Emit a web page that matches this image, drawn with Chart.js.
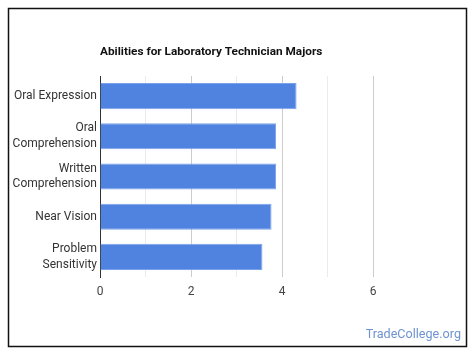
<!DOCTYPE html>
<html><head><meta charset="utf-8">
<script src="https://cdn.jsdelivr.net/npm/chart.js@4/dist/chart.umd.min.js"></script>
<style>html,body{margin:0;padding:0;background:#fff}#wrap{width:476px;height:357px;position:relative}</style>
</head><body><div id="wrap"><canvas id="c" width="476" height="357"></canvas></div>
<script>
const categories = [["Oral Expression"], ["Oral", "Comprehension"], ["Written", "Comprehension"], ["Near Vision"], ["Problem", "Sensitivity"]];
const values = [4.32, 3.87, 3.87, 3.77, 3.57];
const xTicks = [0, 2, 4, 6];
const titleText = "Abilities for Laboratory Technician Majors";
const watermark = "TradeCollege.org";

const deco = {
  id: 'deco',
  afterDraw(chart) {
    const ctx = chart.ctx;
    ctx.save();
    ctx.strokeStyle = '#111';
    ctx.lineWidth = 1.5;
    ctx.strokeRect(8.5, 8.5, 458, 338);
    ctx.fillStyle = '#111';
    ctx.font = 'bold 11.8px Roboto';
    ctx.textBaseline = 'middle';
    ctx.textAlign = 'left';
    ctx.fillText(titleText, chart.chartArea.left, 52);
    ctx.fillStyle = '#6e93d3';
    ctx.font = '12.6px Roboto';
    ctx.textAlign = 'right';
    ctx.fillText(watermark, 461, 335);
    ctx.restore();
  }
};

new Chart(document.getElementById('c'), {
  type: 'bar',
  data: {
    labels: categories,
    datasets: [{
      data: values,
      backgroundColor: '#5083e0',
      borderColor: '#7aa2ea',
      borderWidth: 1,
      categoryPercentage: 1,
      barPercentage: 0.65
    }]
  },
  options: {
    indexAxis: 'y',
    responsive: false,
    animation: false,
    layout: { padding: { left: 0, top: 76, right: 103, bottom: 0 } },
    plugins: { legend: { display: false }, tooltip: { enabled: false } },
    scales: {
      x: {
        min: 0, max: 6,
        ticks: {
          stepSize: 1,
          autoSkip: false,
          maxRotation: 0,
          padding: 8,
          color: '#444',
          font: { family: 'Roboto', size: 12 },
          callback: (v) => xTicks.includes(v) ? String(v) : ''
        },
        grid: {
          drawTicks: false,
          color: (c) => c.tick && c.tick.value === 0 ? '#333' : (xTicks.includes(c.tick.value) ? '#cccccc' : '#ebebeb')
        },
        border: { display: false },
        afterFit: (s) => { s.height = 80; }
      },
      y: {
        ticks: {
          padding: 3,
          color: '#333',
          font: { family: 'Roboto', size: 12, lineHeight: 1.33 }
        },
        grid: { display: false, drawTicks: false },
        border: { display: true, color: '#333', width: 1 },
        afterFit: (s) => { s.width = 100; }
      }
    }
  },
  plugins: [deco]
});
</script></body></html>
